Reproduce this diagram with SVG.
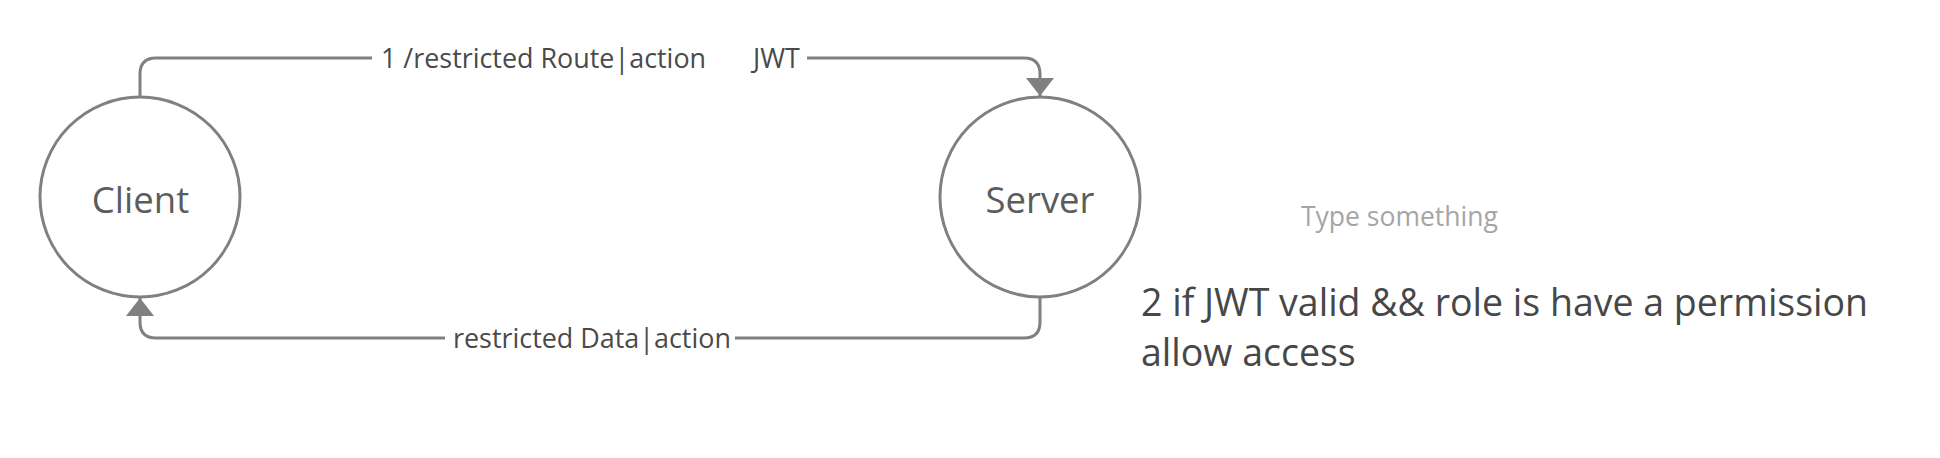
<svg xmlns="http://www.w3.org/2000/svg" width="1940" height="458" viewBox="0 0 1940 458">
<style>
.node{fill:#ffffff;stroke:#808080;stroke-width:3}
.nt{font-family:"Open Sans","Noto Sans",sans-serif;font-size:36.5px;fill:#5c5c5c;text-anchor:middle}
.conn{fill:none;stroke:#808080;stroke-width:3}
.lbl{font-family:"Open Sans","Noto Sans",sans-serif;font-size:26.9px;fill:#4a4a4a}
.note{font-family:"Open Sans","Noto Sans",sans-serif;font-size:37.5px;fill:#474747}
.ph{font-family:"Open Sans","Noto Sans",sans-serif;font-size:26.5px;fill:#a6a6a6}
</style>
<defs>
<marker id="ah" viewBox="0 0 18 28" refX="18" refY="14" markerWidth="18" markerHeight="28" markerUnits="userSpaceOnUse" orient="auto">
<path d="M0,0 L18,14 L0,28 Z" fill="#808080"/>
</marker>
</defs>
<g id="connectors">
<path class="conn" d="M140,97 V74 Q140,58 156,58 H372"/>
<path class="conn" d="M807,58 H1024 Q1040,58 1040,74 V96" marker-end="url(#ah)"/>
<path class="conn" d="M1040,297 V322 Q1040,338 1024,338 H735"/>
<path class="conn" d="M445,338 H156 Q140,338 140,322 V298" marker-end="url(#ah)"/>
<text class="lbl" x="381" y="68">1 /restricted Route|action</text>
<text class="lbl" x="753" y="68">JWT</text>
<text class="lbl" x="453" y="347.5">restricted Data|action</text>
</g>
<g id="client">
<circle class="node" cx="140" cy="197" r="100"/>
<text class="nt" x="140.5" y="213">Client</text>
</g>
<g id="server">
<circle class="node" cx="1040" cy="197" r="100"/>
<text class="nt" x="1040" y="213">Server</text>
</g>
<g id="placeholder">
<text class="ph" x="1301" y="226">Type something</text>
</g>
<g id="note">
<text class="note" x="1141" y="316">2 if JWT valid &amp;&amp; role is have a permission</text>
<text class="note" x="1141" y="366">allow access</text>
</g>
</svg>
